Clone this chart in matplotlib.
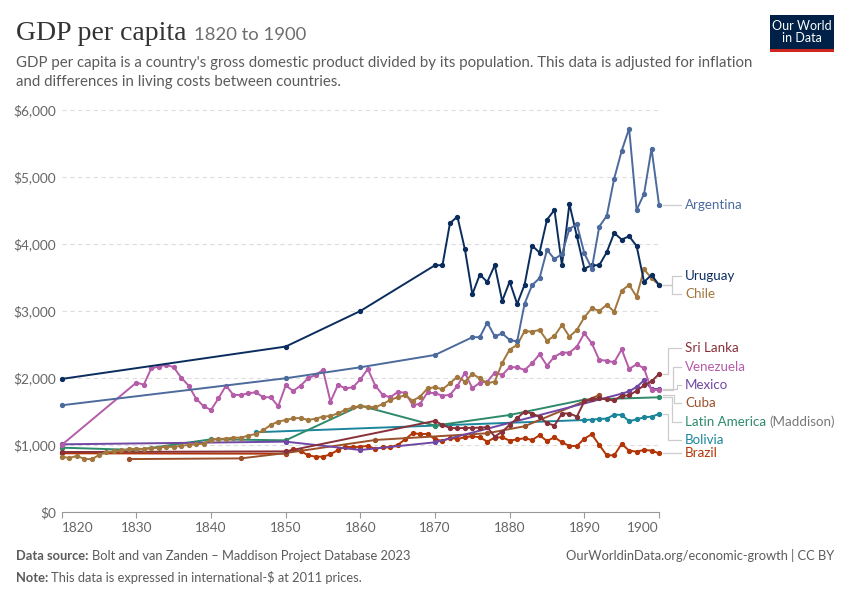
import matplotlib
matplotlib.use("Agg")
import matplotlib.pyplot as plt
from matplotlib.lines import Line2D
from matplotlib.patches import Rectangle

plt.rcParams['font.family'] = ['Lato', 'DejaVu Sans']

# ---------------- data ----------------
argentina_years = [1820, 1850, 1860, 1870, 1875, 1876, 1877, 1878, 1879, 1880, 1881, 1882, 1883, 1884,
                   1885, 1886, 1887, 1888, 1889, 1890, 1891, 1892, 1893, 1894, 1895, 1896, 1897, 1898,
                   1899, 1900]
argentina_vals = [1593, 1996, 2160, 2344, 2608, 2610, 2827, 2620, 2665, 2568, 2545, 3110, 3385, 3490,
                  3912, 3775, 3850, 4225, 4295, 3862, 3633, 4260, 4419, 4977, 5390, 5723, 4509, 4748,
                  5424, 4588]

uruguay_years = [1820, 1850, 1860, 1870, 1871, 1872, 1873, 1874, 1875, 1876, 1877, 1878, 1879, 1880,
                 1881, 1882, 1883, 1884, 1885, 1886, 1887, 1888, 1889, 1890, 1891, 1892, 1893, 1894,
                 1895, 1896, 1897, 1898, 1899, 1900]
uruguay_vals = [1986, 2469, 3000, 3683, 3683, 4310, 4409, 3922, 3250, 3543, 3434, 3683, 3150, 3439,
                3105, 3394, 3976, 3872, 4364, 4509, 3683, 4598, 4116, 3633, 3683, 3683, 3877, 4165,
                4066, 4116, 3971, 3434, 3538, 3389]

chile_years = list(range(1820, 1901))
chile_vals = [826, 806, 836, 796, 786, 851, 895, 905, 920, 935, 945, 940, 950, 960, 975, 970, 990, 1000,
              1010, 1020, 1080, 1090, 1095, 1110, 1110, 1140, 1165, 1220, 1300, 1350,
              1373, 1398, 1403, 1373, 1393, 1423, 1433, 1473, 1523, 1562,
              1582, 1572, 1562, 1612, 1672, 1712, 1742, 1662, 1722, 1846,
              1861, 1831, 1921, 2021, 1946, 2060, 1996, 1921, 1946, 2225,
              2425, 2493, 2700, 2692, 2717, 2558, 2627, 2792, 2617, 2717,
              2906, 3041, 3001, 3091, 2991, 3304, 3389, 3215, 3623, 3489, 3389]

srilanka_years = [1820, 1850, 1870, 1871, 1872, 1873, 1874, 1875, 1876, 1877, 1878, 1879, 1880, 1881,
                  1882, 1883, 1884, 1885, 1886, 1887, 1888, 1889, 1890, 1891, 1892, 1893, 1894, 1895,
                  1896, 1897, 1898, 1899, 1900]
srilanka_vals = [895, 905, 1360, 1300, 1255, 1250, 1255, 1255, 1260, 1265, 1125, 1200, 1300, 1400,
                 1500, 1470, 1420, 1325, 1290, 1470, 1470, 1425, 1650, 1680, 1700, 1680, 1665, 1737,
                 1740, 1810, 1890, 1950, 2060]

venezuela_years = [1820] + list(range(1830, 1901))
venezuela_vals = [1000,
                  1931, 1901, 2145, 2170, 2200, 2160, 2006, 1886, 1692, 1578,
                  1523, 1697, 1886, 1747, 1747, 1772, 1787, 1712, 1712, 1578,
                  1890, 1806, 1886, 1996, 2046, 2120, 1647, 1896, 1846, 1861,
                  1980, 2135, 1886, 1747, 1712, 1791, 1781, 1598, 1613, 1786,
                  1771, 1737, 1747, 1881, 2080, 1846, 1931, 1946, 2080, 2046,
                  2160, 2160, 2120, 2220, 2353, 2185, 2319, 2379, 2379, 2468,
                  2667, 2518, 2269, 2259, 2235, 2428, 2135, 2205, 2145, 1815, 1826]

mexico_years = [1820, 1850, 1860, 1870, 1895, 1896, 1897, 1898, 1899, 1900]
mexico_vals = [1010, 1050, 926, 1040, 1766, 1801, 1866, 1966, 1836, 1836]

cuba_years = [1829, 1844, 1850, 1862, 1877, 1882, 1892]
cuba_vals = [790, 800, 880, 1075, 1175, 1280, 1745]

latam_years = [1820, 1830, 1840, 1850, 1860, 1870, 1880, 1890, 1900]
latam_vals = [960, 926, 1085, 1070, 1587, 1289, 1448, 1677, 1712]

bolivia_years = [1846, 1890, 1891, 1892, 1893, 1894, 1895, 1896, 1897, 1898, 1899, 1900]
bolivia_vals = [1190, 1373, 1378, 1390, 1393, 1453, 1450, 1355, 1383, 1413, 1423, 1463]

brazil_years = [1820] + list(range(1850, 1901))
brazil_vals = [876,
               870, 936, 911, 846, 826, 826, 861, 926, 976, 966,
               976, 986, 941, 966, 966, 1001, 1085, 1175, 1165, 1165,
               1085, 1060, 1105, 1090, 1115, 1130, 1115, 1050, 1110, 1115,
               1065, 1085, 1100, 1075, 1145, 1060, 1115, 1040, 985, 985,
               1095, 1160, 1001, 846, 846, 1016, 916, 901, 926, 916, 876]

y_ticks = [0, 1000, 2000, 3000, 4000, 5000, 6000]
y_ticklabels = ["$0", "$1,000", "$2,000", "$3,000", "$4,000", "$5,000", "$6,000"]
x_ticks = [1820, 1830, 1840, 1850, 1860, 1870, 1880, 1890, 1900]

series = [
    ("Argentina", argentina_years, argentina_vals, "#4C6A9C"),
    ("Uruguay", uruguay_years, uruguay_vals, "#0A2D5E"),
    ("Chile", chile_years, chile_vals, "#A2773E"),
    ("Sri Lanka", srilanka_years, srilanka_vals, "#883039"),
    ("Venezuela", venezuela_years, venezuela_vals, "#B55CA8"),
    ("Mexico", mexico_years, mexico_vals, "#7047A3"),
    ("Cuba", cuba_years, cuba_vals, "#9A5129"),
    ("Latin America", latam_years, latam_vals, "#2D8A6A"),
    ("Bolivia", bolivia_years, bolivia_vals, "#1B869B"),
    ("Brazil", brazil_years, brazil_vals, "#B13507"),
]

# ---------------- layout ----------------
W, H = 850, 600
fig = plt.figure(figsize=(W / 100, H / 100), dpi=100)
AX_L, AX_R, AX_T, AX_B = 61.7, 659.0, 110.0, 512.0
ax = fig.add_axes([AX_L / W, 1 - AX_B / H, (AX_R - AX_L) / W, (AX_B - AX_T) / H])
ax.set_xlim(1820, 1900)
ax.set_ylim(0, 6000)

def px2x(px):
    return 1820 + (px - AX_L) / (AX_R - AX_L) * 80

def py2y(py):
    return (AX_B - py) / (AX_B - AX_T) * 6000

for s in ax.spines.values():
    s.set_visible(False)
ax.spines['bottom'].set_visible(True)
ax.spines['bottom'].set_color('#999999')
ax.spines['bottom'].set_linewidth(0.8)

for yv in y_ticks[1:]:
    ax.axhline(yv, color='#dddddd', lw=0.8, ls=(0, (4, 3)), zorder=0)

ax.set_yticks(y_ticks)
ax.set_yticklabels(y_ticklabels)
ax.tick_params(axis='y', length=0, pad=4, labelsize=9.8, labelcolor='#666666')
ax.set_xticks(x_ticks)
ax.set_xticklabels([str(t) for t in x_ticks])
ax.tick_params(axis='x', length=4, width=0.8, color='#999999', pad=3, labelsize=9.8,
               labelcolor='#666666')
xl = ax.get_xticklabels()
xl[0].set_ha('left')
xl[-1].set_ha('right')

# draw series (back to front)
for name, yrs, vals, col in series[::-1]:
    ax.plot(yrs, vals, color=col, lw=1.4, marker='o', markersize=2.8, zorder=3,
            clip_on=False, solid_joinstyle='round')

# ---------------- right labels ----------------
label_info = {
    "Argentina": (205.0, None),
    "Uruguay": (276.0, 672.0),
    "Chile": (294.0, 672.0),
    "Sri Lanka": (348.3, 668.3),
    "Venezuela": (366.7, 673.0),
    "Mexico": (384.7, 676.7),
    "Cuba": (403.0, 674.0),
    "Latin America": (421.7, 671.7),
    "Bolivia": (439.7, 668.3),
    "Brazil": (454.3, None),
}
conn_col = '#cccccc'
lab_fs = 9.6
for name, yrs, vals, col in series:
    lpy, mid = label_info[name]
    ly = py2y(lpy)
    yend = vals[-1]
    x0, x1 = px2x(663), px2x(681)
    if mid is None:
        xs, ys = [x0, x1], [yend, yend]
        ly = yend
    else:
        xm = px2x(mid)
        xs, ys = [x0, xm, xm, x1], [yend, yend, ly, ly]
    ax.add_line(Line2D(xs, ys, color=conn_col, lw=0.9, clip_on=False, zorder=1))
    t = ax.text(px2x(685), ly, name, color=col, fontsize=lab_fs, va='center', ha='left',
                clip_on=False)
    if name == "Latin America":
        fig.canvas.draw()
        bb = t.get_window_extent()
        ax.text(px2x(bb.x1 + 3), ly, "(Maddison)", color='#777777', fontsize=lab_fs,
                va='center', ha='left', clip_on=False)

# ---------------- titles ----------------
def ty(py):
    return 1 - py / H

title = fig.text(16 / W, ty(40), "GDP per capita", fontsize=20, color='#333333',
                 family=['Liberation Serif', 'DejaVu Serif'], va='baseline', ha='left')
fig.canvas.draw()
tb = title.get_window_extent()
fig.text((tb.x1 + 7) / W, ty(40), "1820 to 1900", fontsize=13.3, color='#6e6e6e',
         va='baseline', ha='left')

fig.text(16 / W, ty(67), "GDP per capita is a country's gross domestic product divided by its "
         "population. This data is adjusted for inflation", fontsize=10.8, color='#5b5b5b',
         va='baseline', ha='left')
fig.text(16 / W, ty(86), "and differences in living costs between countries.", fontsize=10.8,
         color='#5b5b5b', va='baseline', ha='left')

# logo
fig.patches.append(Rectangle((770 / W, ty(52)), 64 / W, 37 / H, transform=fig.transFigure,
                             facecolor='#002147', edgecolor='none'))
fig.patches.append(Rectangle((770 / W, ty(52)), 64 / W, 3 / H, transform=fig.transFigure,
                             facecolor='#ce261e', edgecolor='none'))
fig.text(802 / W, ty(32), "Our World\nin Data", fontsize=9, color='white', ha='center',
         va='center', linespacing=1.0)

# footer
fs = 9.3
t1 = fig.text(16 / W, ty(560), "Data source:", fontsize=fs, color='#5b5b5b', fontweight='bold',
              va='baseline', ha='left')
t2 = fig.text(16 / W, ty(582), "Note:", fontsize=fs, color='#5b5b5b', fontweight='bold',
              va='baseline', ha='left')
fig.canvas.draw()
b1 = t1.get_window_extent()
b2 = t2.get_window_extent()
fig.text((b1.x1 + 3) / W, ty(560), "Bolt and van Zanden – Maddison Project Database 2023",
         fontsize=fs, color='#5b5b5b', va='baseline', ha='left')
fig.text((b2.x1 + 3) / W, ty(582), "This data is expressed in international-$ at 2011 prices.",
         fontsize=fs, color='#5b5b5b', va='baseline', ha='left')
fig.text(834 / W, ty(560), "OurWorldinData.org/economic-growth | CC BY", fontsize=fs,
         color='#5b5b5b', va='baseline', ha='right')

fig.savefig("out.png", dpi=100)
